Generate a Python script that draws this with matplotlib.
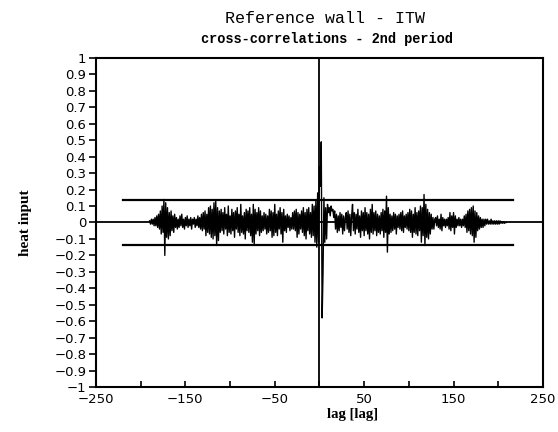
import numpy as np
import matplotlib
matplotlib.use("Agg")
import matplotlib.pyplot as plt

# lag range of the cross-correlation series
lag_start = -190

# cross-correlation values, one per lag
ccf = [
    0.01, -0.01, 0.02, -0.01, 0.02, -0.02, 0.03, -0.02, 0.04, -0.03,
    0.05, -0.04, 0.07, -0.07, 0.10, -0.06, 0.14, -0.20, 0.12, -0.09,
    0.09, -0.10, 0.06, -0.08, 0.07, -0.05, 0.04, -0.06, 0.05, -0.03,
    0.03, -0.04, 0.02, -0.03, 0.04, -0.02, 0.05, -0.03, 0.02, -0.04,
    0.03, -0.02, 0.04, -0.03, 0.02, -0.02, 0.03, -0.04, 0.02, -0.01,
    0.03, -0.03, 0.02, -0.02, 0.04, -0.03, 0.03, -0.04, 0.05, -0.05,
    0.06, -0.04, 0.07, -0.08, 0.05, -0.06, 0.09, -0.07, 0.10, -0.09,
    0.08, -0.10, 0.12, -0.08, 0.13, -0.14, 0.09, -0.11, 0.07, -0.06,
    0.08, -0.05, 0.06, -0.07, 0.09, -0.04, 0.05, -0.08, 0.10, -0.06,
    0.04, -0.07, 0.08, -0.05, 0.06, -0.09, 0.07, -0.04, 0.09, -0.06,
    0.05, -0.08, 0.11, -0.06, 0.04, -0.07, 0.06, -0.10, 0.08, -0.05,
    0.07, -0.06, 0.09, -0.08, 0.05, -0.12, 0.11, -0.13, 0.08, -0.07,
    0.06, -0.05, 0.09, -0.08, 0.07, -0.06, 0.04, -0.05, 0.06, -0.04,
    0.05, -0.07, 0.04, -0.06, 0.08, -0.05, 0.07, -0.09, 0.06, -0.08,
    0.11, -0.06, 0.05, -0.08, 0.07, -0.04, 0.09, -0.07, 0.06, -0.12,
    0.08, -0.05, 0.04, -0.06, 0.05, -0.03, 0.04, -0.05, 0.03, -0.04,
    0.06, -0.04, 0.07, -0.05, 0.08, -0.09, 0.06, -0.07, 0.05, -0.04,
    0.07, -0.06, 0.09, -0.08, 0.06, -0.10, 0.08, -0.05, 0.09, -0.07,
    0.06, -0.09, 0.11, -0.08, 0.10, -0.12, 0.13, -0.15, 0.18, -0.12,
    0.34, 0.22, 0.49, -0.58, -0.30, 0.15, -0.12, 0.09, -0.10, 0.11,
    0.06, 0.09, 0.04, 0.10, 0.07, 0.08, 0.03, 0.07, -0.04, 0.05,
    -0.06, 0.04, -0.05, 0.06, -0.03, 0.05, -0.07, 0.04, -0.05, 0.03,
    0.06, -0.04, 0.07, -0.06, 0.05, -0.08, 0.04, 0.11, -0.05, 0.06,
    -0.07, 0.05, -0.04, 0.08, -0.06, 0.04, -0.09, 0.07, -0.05, 0.06,
    -0.08, 0.09, -0.05, 0.06, -0.07, 0.05, -0.10, 0.08, -0.06, 0.11,
    -0.07, 0.06, -0.05, 0.07, -0.08, 0.05, -0.06, 0.04, -0.07, 0.06,
    -0.05, 0.08, -0.09, 0.07, -0.06, 0.16, -0.18, 0.09, -0.07, 0.05,
    -0.06, 0.04, -0.05, 0.06, -0.04, 0.05, -0.07, 0.04, -0.03, 0.05,
    -0.04, 0.06, -0.05, 0.07, -0.06, 0.04, -0.03, 0.05, -0.04, 0.06,
    -0.05, 0.08, -0.06, 0.07, -0.09, 0.05, -0.06, 0.09, -0.07, 0.06,
    -0.08, 0.07, -0.05, 0.10, -0.12, 0.09, -0.08, 0.17, -0.14, 0.11,
    -0.09, 0.08, -0.10, 0.06, -0.07, 0.05, -0.04, 0.03, -0.04, 0.02,
    0.03, -0.02, 0.04, -0.03, 0.02, -0.04, 0.05, -0.05, 0.03, -0.02,
    0.02, -0.03, 0.02, -0.02, 0.03, -0.04, 0.06, -0.05, 0.04, -0.03,
    0.06, -0.07, 0.04, -0.03, 0.02, -0.02, 0.03, -0.02, 0.02, -0.03,
    0.02, -0.02, 0.04, -0.03, 0.05, -0.06, 0.07, -0.05, 0.08, -0.07,
    0.09, -0.08, 0.10, -0.12, 0.07, -0.09, 0.06, -0.05, 0.04, -0.04,
    0.03, -0.03, 0.02, -0.03, 0.02, -0.02, 0.02, -0.01, 0.02, -0.01,
    0.01, -0.01, 0.02, -0.01, 0.01, -0.01, 0.01, -0.01, 0.01, -0.01,
    0.01, -0.01, 0.01, -0.005, 0.005, -0.005, 0.005, -0.005, 0.0, 0.0,
]
lags = np.arange(lag_start, lag_start + len(ccf))

# confidence band (+/-) and its lag extent
band = 0.135
band_lags = [-220, 216]

x_ticks = [-250, -150, -50, 50, 150, 250]
x_minor = [-200, -100, 0, 100, 200]
y_ticks = np.round(np.arange(-1.0, 1.01, 0.1), 1)
y_labels = ["0" if v == 0 else f"{v:g}".replace("-", "\u2212") for v in y_ticks]

fig = plt.figure(figsize=(5.58, 4.32), dpi=100)
ax = fig.add_axes([0.172, 0.104, 0.801, 0.762])

ax.axhline(0, color="black", lw=1.3)
ax.axvline(0, color="black", lw=1.3)
ax.plot(band_lags, [band, band], color="black", lw=1.6)
ax.plot(band_lags, [-band, -band], color="black", lw=1.6)
ax.plot(lags, ccf, color="black", lw=1.0)

ax.set_xlim(-250, 250)
ax.set_ylim(-1, 1)
ax.set_xticks(x_ticks)
ax.set_xticklabels([str(t).replace("-", "\u2212") for t in x_ticks])
ax.set_xticks(x_minor, minor=True)
ax.set_yticks(y_ticks)
ax.set_yticklabels(y_labels)
ax.tick_params(axis="x", which="both", direction="in", length=4, width=1.2, labelsize=9.5, pad=4)
ax.tick_params(axis="y", direction="out", length=5, width=1.2, labelsize=9.5, pad=2)
for s in ax.spines.values():
    s.set_linewidth(1.5)

ax.set_xlabel("lag [lag]", family="Liberation Serif", fontweight="bold", fontsize=10.5, labelpad=2)
ax.xaxis.set_label_coords(0.573, -0.065)
ax.set_ylabel("heat input", family="Liberation Serif", fontweight="bold", fontsize=11, labelpad=16)
fig.text(0.582, 0.958, "Reference wall - ITW", family="Liberation Mono", fontsize=12,
         ha="center", va="center")
fig.text(0.586, 0.91, "cross-correlations - 2nd period", family="Liberation Mono",
         fontweight="bold", fontsize=9.8, ha="center", va="center")

fig.savefig("out.png", dpi=100)
